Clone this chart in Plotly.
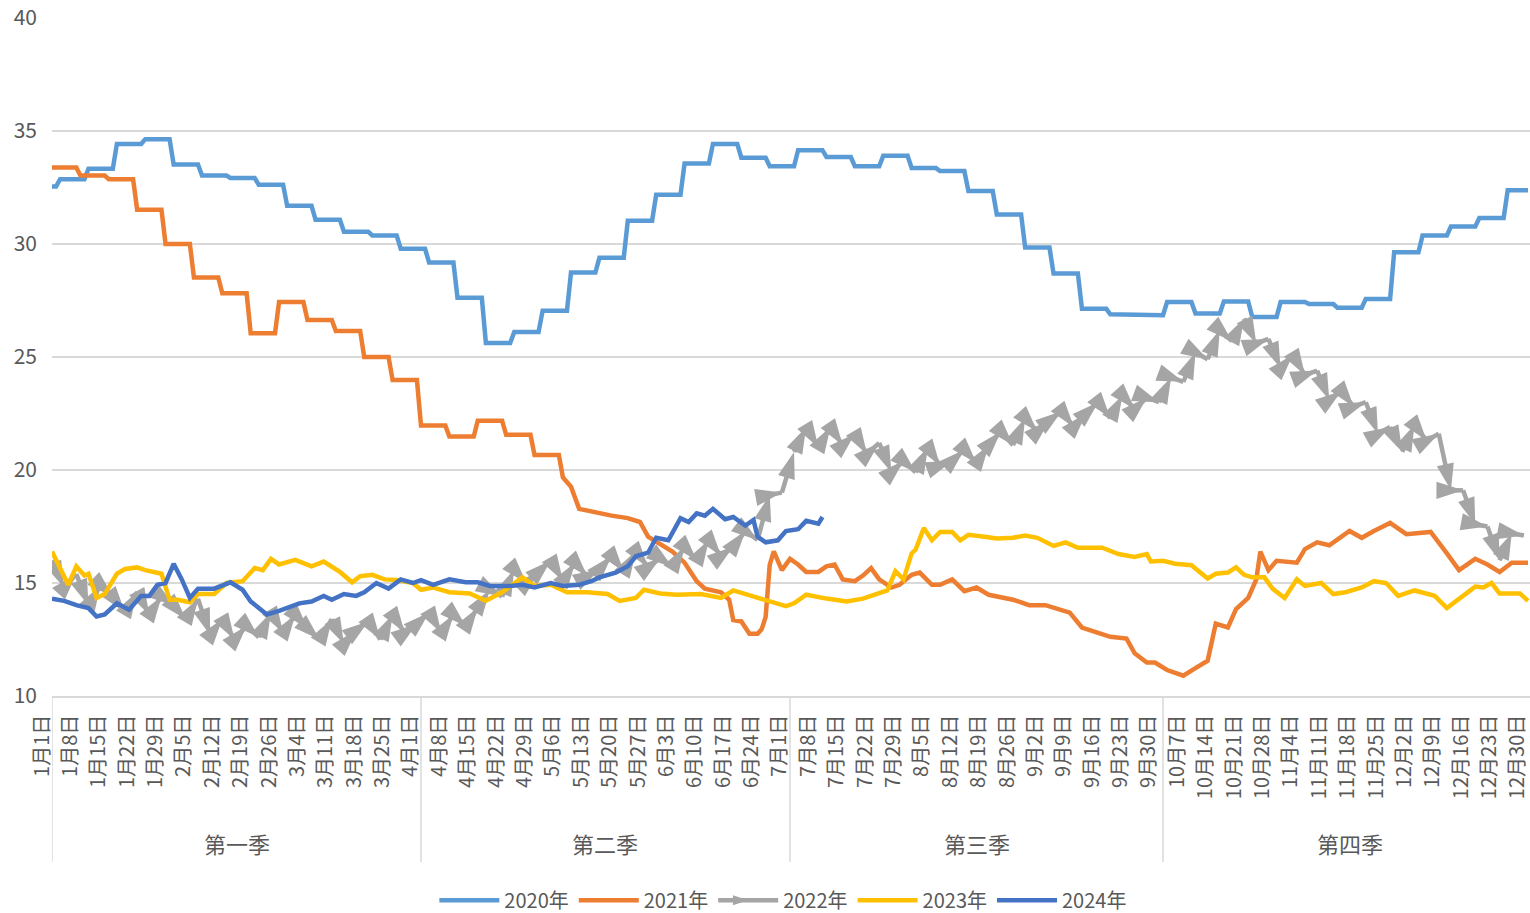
import pandas as pd
import plotly.graph_objects as go

# day index = days since 1月1日 (leap-year calendar, 366 days)

# 2020年: weekly step series (week start day, value)
S2020_START = [0, 2, 9, 16, 23, 30, 37, 44, 51, 58, 65, 72, 79, 86, 93, 100, 107, 114,
               121, 128, 135, 142, 149, 156, 163, 170, 177, 184, 191, 198, 205, 212, 219,
               226, 233, 240, 247, 254, 261, 268, 275, 282, 289, 296, 303, 310, 317, 324,
               331, 338, 345, 352, 359]
S2020_VAL = [32.54, 32.87, 33.33, 34.43, 34.64, 33.52, 33.03, 32.92, 32.62, 31.69, 31.07,
             30.54, 30.38, 29.79, 29.18, 27.62, 25.62, 26.11, 27.05, 28.74, 29.39, 31.03,
             32.18, 33.56, 34.43, 33.82, 33.44, 34.15, 33.85, 33.44, 33.90, 33.36, 33.23,
             32.34, 31.31, 29.84, 28.69, 27.13, 26.89, 26.85, 27.43, 26.93, 27.46, 26.77,
             27.43, 27.34, 27.18, 27.57, 29.64, 30.38, 30.77, 31.15, 32.38]

# 2021年: weekly steps until late April, then daily readings
S2021_START = [0, 7, 14, 21, 28, 35, 42, 49, 56, 63, 70, 77, 84, 91, 98, 105, 112, 119]
S2021_VAL = [33.39, 33.03, 32.87, 31.52, 30.00, 28.52, 27.82, 26.05, 27.43, 26.64, 26.15,
             25.00, 23.98, 21.97, 21.48, 22.18, 21.56, 20.66]
D2021_DAY = [126, 128, 130, 134, 138, 142, 145, 147, 150, 153, 156, 159, 161, 165, 167, 168,
             170, 172, 174, 175, 176, 177, 178, 180, 182, 184, 186, 189, 191, 193, 195, 198,
             200, 202, 204, 207, 209, 212, 214, 217, 219, 222, 225, 228, 231, 234, 237, 241,
             245, 251, 254, 258, 261, 265, 267, 270, 272, 275, 279, 282, 285, 287, 290, 292,
             295, 297, 298, 300, 302, 307, 309, 312, 315, 320, 323, 326, 330, 334, 340, 344,
             347, 351, 354, 357, 360, 364]
D2021_VAL = [19.67, 19.26, 18.28, 18.11, 17.98, 17.87, 17.70, 17.05, 16.72, 16.39, 15.90,
             15.08, 14.75, 14.59, 14.26, 13.36, 13.30, 12.75, 12.75, 12.95, 13.50, 15.80,
             16.40, 15.57, 16.07, 15.82, 15.49, 15.49, 15.74, 15.82, 15.16, 15.08, 15.33,
             15.66, 15.16, 14.80, 14.92, 15.36, 15.46, 14.92, 14.92, 15.16, 14.64, 14.80,
             14.48, 14.38, 14.26, 14.02, 14.02, 13.69, 13.03, 12.79, 12.62, 12.54, 11.89,
             11.48, 11.48, 11.15, 10.90, 11.23, 11.56, 13.20, 13.03, 13.85, 14.34, 15.16,
             16.39, 15.57, 15.98, 15.90, 16.50, 16.80, 16.67, 17.30, 17.00, 17.30, 17.66,
             17.16, 17.26, 16.31, 15.57, 16.07, 15.82, 15.49, 15.90, 15.90]

# 2022年: every third day
D2022_VAL = [16.0, 14.8, 15.4, 14.0, 14.9, 14.4, 13.7, 14.6, 13.6, 14.4, 14.0, 13.4, 14.3,
             12.7, 13.4, 12.5, 13.1, 12.6, 13.7, 12.8, 13.6, 13.0, 12.5, 13.4, 12.3, 12.9,
             13.3, 12.5, 13.6, 12.8, 13.2, 13.7, 12.8, 13.6, 13.1, 13.9, 14.7, 14.4, 15.6,
             15.0, 15.5, 16.0, 15.1, 15.9, 15.3, 15.6, 16.2, 15.5, 16.4, 15.7, 16.1, 15.7,
             16.6, 16.0, 16.9, 16.2, 16.6, 17.3, 16.9, 18.9, 19.0, 20.8, 21.9, 21.0, 21.9,
             21.1, 21.6, 20.7, 21.2, 19.9, 20.4, 19.9, 21.0, 20.2, 20.4, 20.9, 20.3, 21.1,
             21.7, 21.1, 22.3, 21.7, 22.2, 22.6, 21.9, 22.5, 23.0, 22.3, 23.3, 22.7, 23.2,
             23.0, 24.1, 23.9, 25.2, 24.9, 26.2, 25.7, 26.7, 25.6, 25.8, 24.5, 25.1, 24.2,
             24.4, 23.1, 23.5, 22.8, 23.0, 21.6, 21.9, 20.8, 22.0, 21.3, 21.6, 19.1, 19.1,
             17.6, 17.5, 16.0, 17.2, 17.1]
D2022_DAY = list(range(0, 3 * len(D2022_VAL), 3))

# 2023年
D2023_DAY = [0, 2, 4, 6, 8, 9, 11, 13, 16, 18, 21, 23, 27, 29, 31, 34, 36, 40, 43, 47, 50,
             52, 54, 56, 60, 64, 67, 71, 74, 76, 79, 82, 85, 89, 91, 94, 98, 103, 107, 111,
             116, 119, 123, 127, 132, 137, 140, 144, 146, 150, 154, 160, 165, 168, 172, 176,
             181, 183, 186, 191, 196, 200, 203, 206, 208, 210, 212, 213, 215, 217, 219, 222,
             224, 226, 230, 233, 237, 240, 243, 247, 250, 253, 259, 263, 267, 270, 271, 274,
             277, 281, 285, 287, 290, 292, 294, 296, 299, 301, 304, 307, 309, 313, 316, 319,
             323, 326, 329, 332, 336, 341, 344, 347, 351, 353, 355, 357, 362, 364]
D2023_VAL = [16.39, 15.66, 14.92, 15.74, 15.33, 15.41, 14.34, 14.51, 15.41, 15.62, 15.69,
             15.57, 15.41, 14.26, 14.26, 14.15, 14.51, 14.51, 15.00, 15.08, 15.66, 15.57,
             16.07, 15.82, 16.02, 15.74, 15.95, 15.49, 15.03, 15.30, 15.36, 15.16, 15.13,
             15.00, 14.70, 14.80, 14.59, 14.54, 14.21, 14.59, 15.25, 14.87, 14.92, 14.59,
             14.59, 14.51, 14.21, 14.34, 14.70, 14.54, 14.48, 14.51, 14.34, 14.67, 14.46,
             14.26, 13.98, 14.10, 14.48, 14.31, 14.18, 14.31, 14.48, 14.67, 15.52, 15.16,
             16.31, 16.48, 17.43, 16.89, 17.26, 17.26, 16.89, 17.13, 17.05, 16.97, 17.00,
             17.10, 17.00, 16.64, 16.80, 16.56, 16.56, 16.28, 16.15, 16.28, 15.95, 15.98,
             15.85, 15.79, 15.20, 15.41, 15.46, 15.69, 15.36, 15.25, 15.25, 14.75, 14.34,
             15.16, 14.87, 15.00, 14.51, 14.59, 14.80, 15.08, 15.00, 14.43, 14.67, 14.43,
             13.89, 14.31, 14.84, 14.80, 15.00, 14.54, 14.54, 14.21]

# 2024年 (year to date)
D2024_DAY = [0, 3, 6, 9, 11, 13, 16, 19, 22, 24, 26, 28, 30, 32, 34, 36, 40, 44, 47, 49, 53,
             56, 61, 64, 67, 69, 72, 75, 77, 80, 83, 86, 89, 91, 94, 98, 102, 105, 108, 113,
             116, 119, 123, 126, 130, 133, 135, 139, 142, 144, 147, 149, 152, 155, 157, 159,
             161, 163, 166, 168, 171, 173, 174, 176, 179, 181, 184, 186, 189, 190]
D2024_VAL = [14.31, 14.21, 14.02, 13.89, 13.52, 13.61, 14.10, 13.82, 14.43, 14.43, 14.92,
             15.00, 15.85, 15.16, 14.34, 14.75, 14.75, 15.03, 14.70, 14.18, 13.61, 13.77,
             14.10, 14.18, 14.43, 14.26, 14.51, 14.43, 14.59, 15.00, 14.75, 15.16, 15.00,
             15.13, 14.92, 15.16, 15.03, 15.03, 14.87, 14.87, 14.92, 14.80, 15.00, 14.87,
             14.92, 15.08, 15.25, 15.46, 15.74, 16.18, 16.34, 17.00, 16.89, 17.87, 17.70,
             18.08, 17.98, 18.28, 17.82, 17.92, 17.54, 17.79, 17.05, 16.80, 16.89, 17.30,
             17.38, 17.75, 17.62, 17.92]

QUARTERS = ["第一季", "第二季", "第三季", "第四季"]
QUARTER_START = [0, 91, 182, 274, 366]

tick_dates = pd.date_range("2020-01-01", "2020-12-30", freq="7D")
TICK_DAYS = [(d - tick_dates[0]).days for d in tick_dates]
TICK_TEXT = [f"{d.month}月{d.day}日" for d in tick_dates]


def expand_steps(starts, vals, last_day):
    xs, ys = [], []
    for i, (s, v) in enumerate(zip(starts, vals)):
        e = starts[i + 1] - 1 if i + 1 < len(starts) else last_day
        xs += [s, e]
        ys += [v, v]
    return xs, ys


x2020, y2020 = expand_steps(S2020_START, S2020_VAL, 364)
x2021, y2021 = expand_steps(S2021_START, S2021_VAL, 125)
x2021 += D2021_DAY
y2021 += D2021_VAL

FONT = "Noto Sans CJK SC"
GREY_TXT = "#595959"
GRID = "#d9d9d9"
LW = 4.5

fig = go.Figure()
fig.add_trace(go.Scatter(x=x2020, y=y2020, name="2020年", mode="lines",
                         line=dict(color="#5B9BD5", width=LW)))
fig.add_trace(go.Scatter(x=x2021, y=y2021, name="2021年", mode="lines",
                         line=dict(color="#ED7D31", width=LW)))
fig.add_trace(go.Scatter(x=D2022_DAY, y=D2022_VAL, name="2022年", mode="lines+markers",
                         line=dict(color="#A5A5A5", width=LW),
                         marker=dict(symbol="arrow", size=28, angleref="previous",
                                     color="#A5A5A5", line=dict(width=0))))
fig.add_trace(go.Scatter(x=D2023_DAY, y=D2023_VAL, name="2023年", mode="lines",
                         line=dict(color="#FFC000", width=LW)))
fig.add_trace(go.Scatter(x=D2024_DAY, y=D2024_VAL, name="2024年", mode="lines",
                         line=dict(color="#4472C4", width=LW)))

# quarter separators and labels under the date ticks
for i, q in enumerate(QUARTERS):
    fig.add_shape(type="line", xref="x", yref="paper",
                  x0=QUARTER_START[i], x1=QUARTER_START[i], y0=0, y1=-0.245,
                  line=dict(color=GRID, width=1.5))
    fig.add_annotation(x=(QUARTER_START[i] + QUARTER_START[i + 1]) / 2, xref="x",
                       y=-0.217, yref="paper", yanchor="middle", text=q, showarrow=False,
                       font=dict(size=22, color=GREY_TXT, family=FONT))

fig.update_layout(
    width=1530,
    height=913,
    margin=dict(l=52, r=0, t=18, b=217),
    paper_bgcolor="white",
    plot_bgcolor="white",
    font=dict(family=FONT, color=GREY_TXT, size=20),
    showlegend=True,
    legend=dict(orientation="h", x=0.512, xanchor="center", xref="container",
                y=0.014, yanchor="middle", yref="container",
                font=dict(size=20, color=GREY_TXT), itemwidth=60),
)
fig.update_xaxes(
    range=[0, 364.5],
    automargin=False,
    tickvals=TICK_DAYS,
    ticktext=TICK_TEXT,
    tickangle=-90,
    ticklabelshift=-10,
    ticklabelstandoff=9,
    ticklabeloverflow="allow",
    tickfont=dict(size=20, color=GREY_TXT),
    showgrid=False,
    zeroline=False,
    showline=True,
    linecolor=GRID,
    linewidth=1.5,
    ticks="",
)
fig.update_yaxes(
    range=[10, 40],
    automargin=False,
    dtick=5,
    tickfont=dict(size=21, color=GREY_TXT),
    ticklabelstandoff=14,
    gridcolor=GRID,
    gridwidth=1.5,
    zeroline=False,
    showline=False,
    ticks="",
)

# the page body has a default 8px margin; remove it so the figure fills the window
fig.write_html("out.html", config={"displayModeBar": False},
               post_script="document.body.style.margin='0';")
